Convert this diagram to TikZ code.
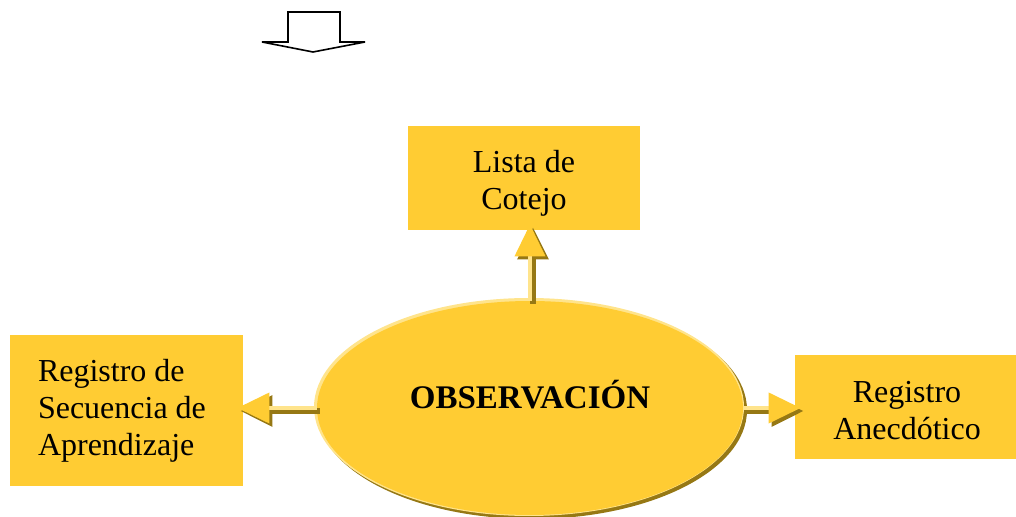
\documentclass[tikz,border=0pt]{standalone}
\usepackage{fontspec}
\setmainfont{Liberation Serif}
\usetikzlibrary{shapes.geometric,arrows.meta}
\definecolor{gold}{RGB}{255,204,51}
\definecolor{goldlight}{RGB}{255,228,140}
\definecolor{golddark}{RGB}{150,120,20}
\tikzset{
  box/.style={fill=gold, inner sep=0pt},
  boxtext/.style={inner sep=0pt, align=center, font=\fontsize{16}{18.5}\selectfont},
  arrshadow/.style={draw=golddark, line width=3pt, -{Triangle[length=16pt,width=15pt,color=golddark]}, shorten >=-3pt},
  arrmain/.style={draw=goldlight, line width=2pt, -{Triangle[length=16pt,width=15pt,color=gold]}, shorten >=-3pt},
}
\begin{document}
\begin{tikzpicture}[x=0.5pt,y=-0.5pt]
\useasboundingbox (0,0) rectangle (1016,517);
% top outline arrow
\draw[line width=0.8pt, line join=miter] (288,12) -- (340,12) -- (340,42) -- (365,42) -- (313,52) -- (262,42) -- (288,42) -- cycle;
% boxes
\node[box, minimum width=116pt, minimum height=52pt] (lista) at (524,178) {};
\node[boxtext] (listatxt) at (524,183) {Lista de\\Cotejo};
\node[box, minimum width=116.5pt, minimum height=75.5pt] (reg) at (126.5,410.5) {};
\node[boxtext, align=flush left, text width=88.5pt] (regtxt) at (126.5,410.5) {Registro de\\Secuencia de\\Aprendizaje};
\node[box, minimum width=110.5pt, minimum height=52pt] (anec) at (905.5,407) {};
\node[boxtext] (anectxt) at (907,411) {Registro\\Anecdótico};
% ellipse with shadow
\fill[golddark] (532,410) ellipse [x radius=215, y radius=109];
\fill[goldlight] (529,407) ellipse [x radius=215, y radius=109];
\node[ellipse, fill=gold, minimum width=213pt, minimum height=107pt, inner sep=0pt] (obs) at (530,408) {};
\node[font=\fontsize{16.5}{19}\bfseries\selectfont] (obstxt) at (530,395) {OBSERVACIÓN};
% connector end points
\coordinate (up) at (obs.north |- lista.south);
\coordinate (lt) at (reg.east |- obs.west);
\coordinate (rt) at (anec.west |- obs.east);
% connectors
\begin{scope}[transform canvas={xshift=1.5pt,yshift=-1.5pt}]
\draw[arrshadow] (obs.north) -- (up);
\draw[arrshadow] (obs.west) -- (lt);
\draw[arrshadow] (obs.east) -- (rt);
\end{scope}
\draw[arrmain] (obs.north) -- (up);
\draw[arrmain] (obs.west) -- (lt);
\draw[arrmain] (obs.east) -- (rt);
\end{tikzpicture}
\end{document}
